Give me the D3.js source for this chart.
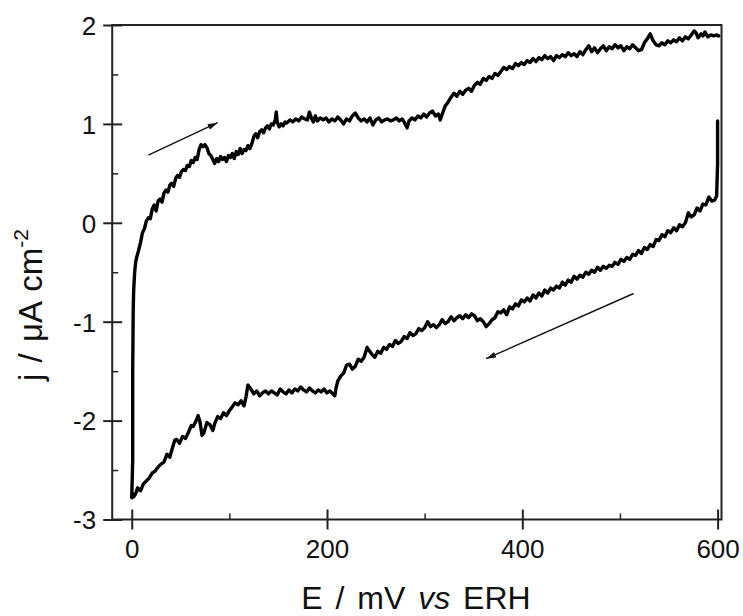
<!DOCTYPE html>
<html>
<head>
<meta charset="utf-8">
<script src="https://cdn.jsdelivr.net/npm/d3@7"></script>
<style>
  html, body { margin: 0; padding: 0; background: #fff; }
  svg { display: block; }
  text { font-family: "Liberation Sans", Arial, Helvetica, sans-serif; fill: #111; }
</style>
</head>
<body>
<svg id="chart" width="743" height="616"></svg>
<script>
// ---- data (E in mV vs ERH, j in µA cm^-2) ----
// cathodic (reverse) sweep, starting at 600 mV
const cathodicSweep = [
  [600,1.03],[600,0.60],[599,0.27],[597,0.23],[594,0.22],[591,0.26],[588,0.18],[585,0.19],[582,0.12],[579,0.15],
  [576,0.08],[573,0.06],[570,0.10],[567,0.00],[564,-0.04],[561,-0.02],[558,-0.08],[555,-0.05],[552,-0.10],[549,-0.08],
  [546,-0.14],[543,-0.12],[540,-0.18],[537,-0.17],[534,-0.24],[531,-0.22],[528,-0.27],[525,-0.25],[522,-0.31],[519,-0.28],
  [516,-0.33],[513,-0.32],[510,-0.37],[507,-0.35],[504,-0.39],[501,-0.37],[498,-0.42],[495,-0.40],[492,-0.44],[489,-0.43],
  [486,-0.46],[483,-0.44],[480,-0.48],[477,-0.45],[474,-0.50],[471,-0.48],[468,-0.52],[465,-0.50],[462,-0.55],[459,-0.53],
  [456,-0.57],[453,-0.54],[450,-0.60],[447,-0.58],[444,-0.63],[441,-0.60],[438,-0.66],[435,-0.64],[432,-0.68],[429,-0.66],
  [426,-0.71],[423,-0.68],[420,-0.74],[417,-0.71],[414,-0.76],[411,-0.73],[408,-0.79],[405,-0.76],[402,-0.80],[399,-0.78],
  [396,-0.84],[393,-0.82],[390,-0.87],[387,-0.85],[384,-0.93],[381,-0.88],[378,-0.91],[375,-0.90],[372,-0.96],[369,-0.98],
  [366,-1.02],[363,-1.05],[360,-1.00],[357,-0.97],[354,-0.99],[351,-0.94],[348,-0.92],[345,-0.96],[342,-0.93],[339,-0.97],
  [336,-0.94],[333,-0.96],[330,-0.99],[327,-0.95],[324,-1.00],[321,-1.02],[318,-0.98],[315,-1.03],[312,-1.06],[309,-1.03],
  [306,-1.05],[303,-1.00],[300,-1.06],[297,-1.09],[294,-1.07],[291,-1.12],[288,-1.14],[285,-1.11],[282,-1.17],[279,-1.15],
  [276,-1.20],[273,-1.22],[270,-1.19],[267,-1.25],[264,-1.23],[261,-1.28],[258,-1.26],[255,-1.32],[252,-1.30],[249,-1.36],
  [246,-1.33],[243,-1.29],[241,-1.26],[238,-1.36],[235,-1.40],[232,-1.38],[229,-1.45],[226,-1.48],[223,-1.43],[220,-1.44],
  [217,-1.52],[214,-1.55],[211,-1.60],[209,-1.68],[208,-1.75],[206,-1.73],[203,-1.70],[200,-1.72],[197,-1.68],[194,-1.71],
  [191,-1.69],[188,-1.72],[185,-1.70],[182,-1.67],[179,-1.71],[176,-1.69],[173,-1.66],[170,-1.70],[167,-1.68],[164,-1.72],
  [161,-1.69],[158,-1.73],[155,-1.71],[152,-1.68],[149,-1.74],[146,-1.72],[143,-1.70],[140,-1.73],[137,-1.70],[134,-1.72],
  [131,-1.75],[128,-1.70],[125,-1.73],[122,-1.68],[119,-1.64],[117,-1.76],[115,-1.85],[112,-1.80],[109,-1.84],[106,-1.82],
  [103,-1.86],[100,-1.90],[97,-1.95],[94,-1.92],[91,-1.98],[88,-1.96],[85,-2.03],[83,-2.10],[80,-2.04],[77,-2.02],
  [74,-2.12],[72,-2.15],[70,-2.02],[68,-1.95],[66,-2.00],[63,-2.06],[61,-2.05],[58,-2.12],[55,-2.18],[52,-2.16],
  [49,-2.23],[46,-2.19],[44,-2.20],[41,-2.30],[39,-2.37],[36,-2.34],[33,-2.42],[30,-2.44],[27,-2.47],[24,-2.51],
  [21,-2.53],[18,-2.58],[15,-2.61],[12,-2.64],[9,-2.71],[6,-2.68],[4,-2.74],[2,-2.77],[1,-2.74],[0,-2.78]
];
// anodic (forward) sweep, from 0 mV up to 600 mV
const anodicSweep = [
  [1,-2.40],[1,-1.50],[1.5,-0.90],[2,-0.68],[3,-0.50],[4,-0.40],[5,-0.35],[7,-0.28],[9,-0.20],[11,-0.10],
  [13,-0.06],[15,0.02],[17,0.05],[19,0.04],[21,0.14],[23,0.18],[25,0.12],[27,0.22],[29,0.24],[31,0.21],
  [33,0.30],[35,0.33],[37,0.31],[39,0.38],[41,0.40],[43,0.37],[45,0.45],[47,0.48],[49,0.46],[51,0.52],
  [53,0.54],[55,0.53],[57,0.58],[59,0.57],[61,0.63],[63,0.61],[65,0.66],[67,0.64],[69,0.74],[71,0.79],
  [73,0.77],[75,0.79],[77,0.76],[79,0.70],[81,0.68],[83,0.64],[85,0.60],[87,0.65],[89,0.62],[91,0.67],
  [93,0.64],[95,0.66],[97,0.62],[99,0.68],[101,0.66],[103,0.70],[105,0.65],[107,0.72],[109,0.69],[111,0.75],
  [113,0.70],[115,0.74],[117,0.73],[119,0.78],[121,0.75],[123,0.80],[125,0.87],[127,0.90],[129,0.86],[131,0.92],
  [133,0.94],[135,0.91],[137,0.96],[139,0.98],[141,0.95],[143,1.00],[145,0.99],[147,1.04],[148,1.12],[149,1.02],
  [151,0.97],[153,1.00],[155,0.98],[157,1.02],[159,1.01],[162,1.04],[165,1.02],[168,1.05],[171,1.03],[174,1.07],
  [177,1.05],[180,1.04],[182,1.12],[184,1.06],[186,1.02],[188,1.08],[190,1.03],[193,1.06],[196,1.04],[199,1.06],
  [202,1.02],[205,1.05],[208,1.03],[211,1.07],[214,1.04],[217,1.00],[220,1.05],[223,1.03],[226,1.08],[229,1.11],
  [232,1.06],[235,1.03],[238,1.05],[241,1.02],[244,1.06],[247,0.99],[250,1.04],[253,1.06],[256,1.02],[259,1.04],
  [262,1.05],[265,1.03],[268,1.04],[271,1.06],[274,1.03],[277,1.05],[280,1.00],[282,0.96],[284,1.03],[287,1.06],
  [290,1.04],[293,1.08],[296,1.06],[299,1.10],[302,1.07],[305,1.11],[308,1.13],[311,1.08],[314,1.10],[316,1.04],
  [318,1.10],[321,1.18],[324,1.22],[327,1.27],[330,1.31],[333,1.28],[336,1.33],[339,1.30],[342,1.34],[345,1.36],
  [348,1.33],[351,1.39],[354,1.42],[357,1.40],[360,1.46],[363,1.44],[366,1.48],[369,1.46],[372,1.51],[375,1.49],
  [378,1.53],[381,1.57],[384,1.55],[387,1.58],[390,1.56],[393,1.61],[396,1.59],[399,1.62],[402,1.60],[405,1.64],
  [408,1.62],[411,1.66],[414,1.63],[417,1.67],[420,1.65],[423,1.69],[426,1.66],[429,1.68],[432,1.64],[435,1.69],
  [438,1.67],[441,1.70],[444,1.68],[447,1.72],[450,1.69],[453,1.71],[456,1.68],[459,1.73],[462,1.70],[465,1.75],
  [468,1.79],[471,1.73],[474,1.77],[477,1.72],[480,1.76],[483,1.79],[486,1.74],[489,1.78],[492,1.76],[495,1.80],
  [498,1.77],[501,1.79],[504,1.74],[507,1.78],[510,1.76],[513,1.80],[516,1.77],[519,1.74],[522,1.75],[525,1.82],
  [528,1.86],[531,1.91],[534,1.84],[537,1.80],[540,1.79],[543,1.82],[546,1.80],[549,1.84],[552,1.82],[555,1.85],
  [558,1.83],[561,1.87],[564,1.84],[567,1.88],[570,1.86],[573,1.90],[576,1.94],[578,1.92],[580,1.87],[583,1.91],
  [585,1.89],[587,1.93],[590,1.88],[593,1.90],[596,1.89],[599,1.90],[601,1.89]
];
// sweep-direction arrows: [E start, j start, E end, j end]
const sweepArrows = [
  [17, 0.685, 88, 1.012],
  [514, -0.715, 363, -1.374]
];
const xMajorTicks = [0, 200, 400, 600];
const xMinorTicks = [100, 300, 500];
const yMajorTicks = [-3, -2, -1, 0, 1, 2];
const yMinorTicks = [-2.5, -1.5, -0.5, 0.5, 1.5];
const xDomain = [-20, 604];
const yDomain = [-3, 2];

// ---- layout ----
const svg = d3.select("#chart");
const mLeft = 112.2, mRight = 721.5, mTop = 25, mBottom = 519.5;
const x = d3.scaleLinear().domain(xDomain).range([mLeft, mRight]);
const y = d3.scaleLinear().domain(yDomain).range([mBottom, mTop]);

// frame
svg.append("rect")
  .attr("x", mLeft).attr("y", mTop)
  .attr("width", mRight - mLeft).attr("height", mBottom - mTop)
  .attr("fill", "none").attr("stroke", "#222").attr("stroke-width", 2);

// y axis ticks (major cross the axis, minor inside)
const gy = svg.append("g").attr("transform", `translate(${mLeft},0)`);
gy.call(d3.axisLeft(y).tickValues(yMajorTicks).tickSize(9).tickFormat(d3.format("d")));
gy.call(g => g.select(".domain").remove());
gy.selectAll(".tick line").attr("x2", 10).attr("x1", -9).attr("stroke", "#222").attr("stroke-width", 2);
gy.selectAll(".tick text").attr("x", -16).attr("dy", "0.36em")
  .style("font-size", "26px").style("font-family", "'Liberation Sans', Arial, sans-serif")
  .attr("fill", "#111").text(d => d < 0 ? "-" + Math.abs(d) : d);
const gyMinor = svg.append("g").attr("transform", `translate(${mLeft},0)`);
gyMinor.call(d3.axisRight(y).tickValues(yMinorTicks).tickSize(6).tickFormat(""));
gyMinor.call(g => g.select(".domain").remove());
gyMinor.selectAll(".tick line").attr("stroke", "#222").attr("stroke-width", 1.5);

// x axis ticks
const gx = svg.append("g").attr("transform", `translate(0,${mBottom})`);
gx.call(d3.axisBottom(x).tickValues(xMajorTicks).tickSize(10).tickFormat(d3.format("d")));
gx.call(g => g.select(".domain").remove());
gx.selectAll(".tick line").attr("y1", -10).attr("y2", 10).attr("stroke", "#222").attr("stroke-width", 2);
gx.selectAll(".tick text").attr("y", 20).attr("dy", "0.71em")
  .style("font-size", "26px").style("font-family", "'Liberation Sans', Arial, sans-serif")
  .attr("fill", "#111");
const gxMinor = svg.append("g").attr("transform", `translate(0,${mBottom})`);
gxMinor.call(d3.axisTop(x).tickValues(xMinorTicks).tickSize(6).tickFormat(""));
gxMinor.call(g => g.select(".domain").remove());
gxMinor.selectAll(".tick line").attr("stroke", "#222").attr("stroke-width", 1.5);

// curve
const line = d3.line().x(d => x(d[0])).y(d => y(d[1]));
svg.append("path")
  .datum(cathodicSweep.concat(anodicSweep))
  .attr("d", line)
  .attr("fill", "none")
  .attr("stroke", "#000")
  .attr("stroke-width", 3.4)
  .attr("stroke-linejoin", "round")
  .attr("stroke-linecap", "round");

// arrows
const defs = svg.append("defs");
defs.append("marker")
  .attr("id", "arrowhead")
  .attr("viewBox", "0 0 10 6")
  .attr("refX", 10).attr("refY", 3)
  .attr("markerWidth", 10).attr("markerHeight", 6)
  .attr("markerUnits", "userSpaceOnUse")
  .attr("orient", "auto")
  .append("path").attr("d", "M0,0 L10,3 L0,6 Z").attr("fill", "#111");
svg.append("g").selectAll("line").data(sweepArrows).join("line")
  .attr("x1", d => x(d[0])).attr("y1", d => y(d[1]))
  .attr("x2", d => x(d[2])).attr("y2", d => y(d[3]))
  .attr("stroke", "#111").attr("stroke-width", 1.4)
  .attr("marker-end", "url(#arrowhead)");

// titles
svg.append("text")
  .attr("x", 416).attr("y", 609)
  .attr("text-anchor", "middle")
  .style("font-size", "32px")
  .style("word-spacing", "4px")
  .call(t => {
    t.append("tspan").text("E / mV ");
    t.append("tspan").style("font-style", "italic").text("vs");
    t.append("tspan").text(" ERH");
  });

svg.append("text")
  .attr("transform", "translate(42,305) rotate(-90)")
  .attr("text-anchor", "middle")
  .style("font-size", "33px")
  .style("word-spacing", "2px")
  .call(t => {
    t.append("tspan").text("j / μA cm");
    t.append("tspan").attr("dy", -14).style("font-size", "21px").text("-2");
  });
</script>
</body>
</html>
